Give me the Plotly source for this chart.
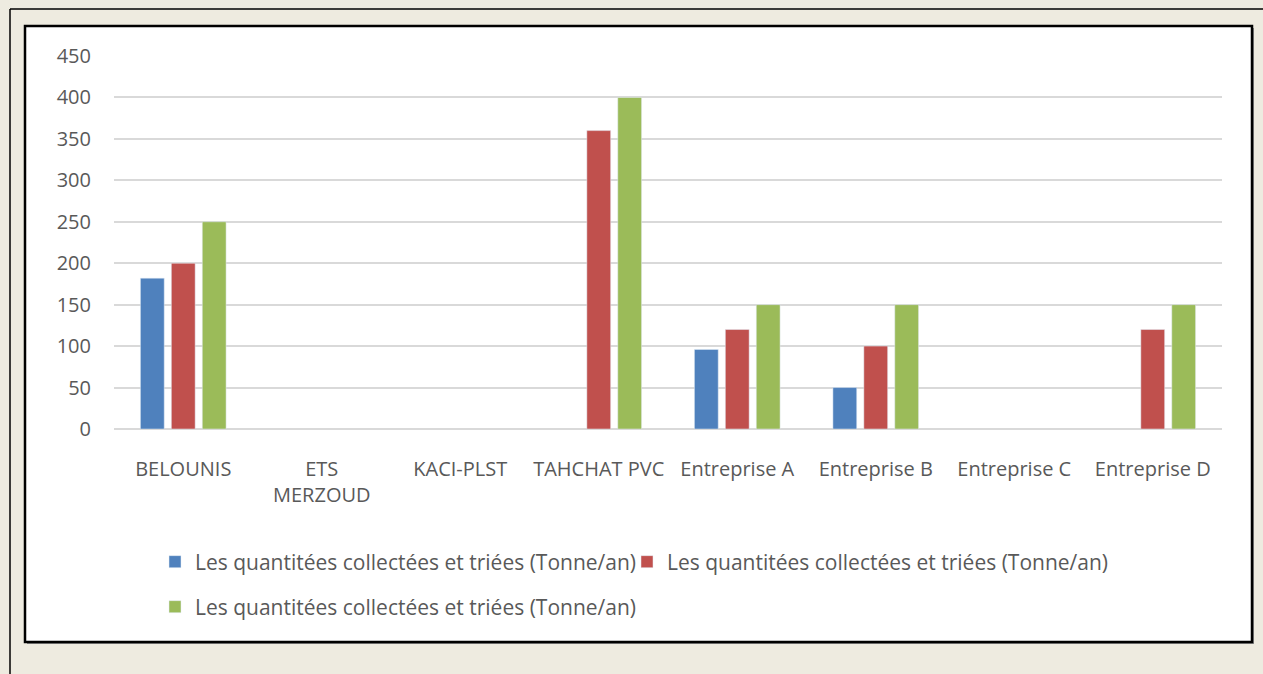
import plotly.graph_objects as go

categories = ["BELOUNIS", "ETS<br>MERZOUD", "KACI-PLST", "TAHCHAT PVC",
              "Entreprise A", "Entreprise B", "Entreprise C", "Entreprise D"]
series_name = "Les quantitées collectées et triées (Tonne/an)"
serie_1 = [182, None, None, None, 96, 50, None, None]
serie_2 = [200, None, None, 360, 120, 100, None, 120]
serie_3 = [250, None, None, 400, 150, 150, None, 150]
y_ticks = [0, 50, 100, 150, 200, 250, 300, 350, 400, 450]

W, H = 1263, 674
L, R, T, B = 114, 1222, 56, 429  # plot area in pixels

def px_x(x):
    return (x - L) / (R - L)

def px_y(y):
    return (B - y) / (B - T)

font = "Open Sans, sans-serif"
grey = "#595959"
fs = 20

fig = go.Figure()
fig.add_trace(go.Bar(x=categories, y=serie_1, name=series_name,
                     marker_color="#4F81BD", legend="legend"))
fig.add_trace(go.Bar(x=categories, y=serie_2, name=series_name,
                     marker_color="#C0504D", legend="legend3"))
fig.add_trace(go.Bar(x=categories, y=serie_3, name=series_name,
                     marker_color="#9BBB59", legend="legend2"))

shapes = [
    # outer thin frame
    dict(type="line", xref="paper", yref="paper", x0=px_x(10), x1=px_x(10),
         y0=px_y(9), y1=px_y(H + 5), line=dict(color="black", width=1.5)),
    dict(type="line", xref="paper", yref="paper", x0=px_x(10), x1=px_x(W + 5),
         y0=px_y(9), y1=px_y(9), line=dict(color="black", width=1.5)),
    # shadow
    dict(type="rect", xref="paper", yref="paper", x0=px_x(27), x1=px_x(1254),
         y0=px_y(28), y1=px_y(644), fillcolor="#8c8c8c", line_width=0, layer="below"),
    # white chart box
    dict(type="rect", xref="paper", yref="paper", x0=px_x(25), x1=px_x(1252),
         y0=px_y(26), y1=px_y(642), fillcolor="white",
         line=dict(color="black", width=2.5), layer="below"),
]

def leg(x, y):
    return dict(orientation="h", xref="paper", yref="paper",
                x=px_x(x), y=px_y(y), xanchor="left", yanchor="middle",
                bgcolor="rgba(0,0,0,0)", font=dict(size=21, color=grey),
                itemwidth=30)

fig.update_layout(
    width=W, height=H,
    margin=dict(l=L, r=W - R, t=T, b=H - B),
    paper_bgcolor="#EEEBE0",
    plot_bgcolor="rgba(0,0,0,0)",
    barmode="group",
    bargap=0.33,
    bargroupgap=0.23,
    font=dict(family=font, size=fs, color=grey),
    shapes=shapes,
    xaxis=dict(showgrid=False, showline=False, ticks="", tickfont=dict(size=fs, color=grey),
               ticklabelstandoff=26),
    yaxis=dict(range=[0, 450], tickvals=y_ticks, showgrid=True, gridcolor="#D9D9D9",
               gridwidth=1.5, zeroline=True, zerolinecolor="#D9D9D9", zerolinewidth=1.5,
               showline=False, ticks="", tickfont=dict(size=fs, color=grey),
               ticklabelstandoff=22),
    legend=leg(155, 562),
    legend3=leg(627, 562),
    legend2=leg(155, 607),
    showlegend=True,
)

fig.write_html("out.html", config={"displayModeBar": False},
               post_script="document.body.style.margin='0';"
                           "document.body.style.background='#EEEBE0';"
                           "document.body.style.overflow='hidden';")
